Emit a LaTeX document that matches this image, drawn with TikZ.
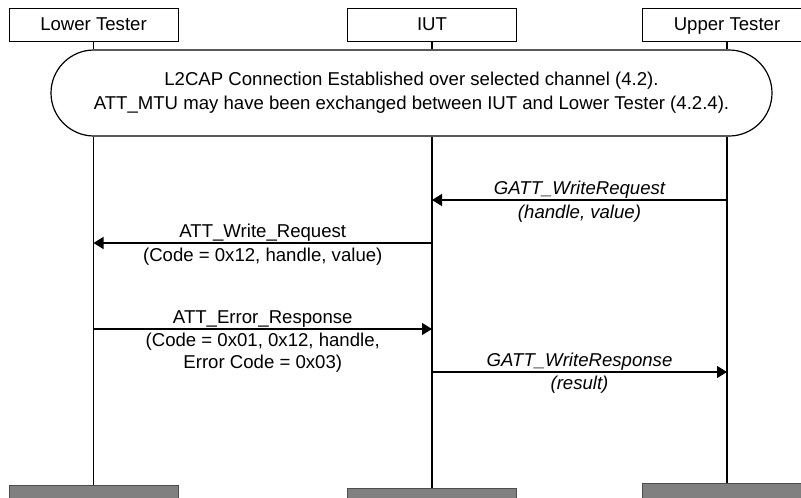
\documentclass[tikz,border=0pt]{standalone}
\usepackage{fontspec}
\setmainfont{Liberation Sans}
\usetikzlibrary{arrows.meta}
\begin{document}
\begin{tikzpicture}[x=1pt,y=-1pt,
  font=\fontsize{18.6}{22}\selectfont,
  actor/.style={draw, line width=1pt, minimum width=169pt, minimum height=33pt, inner sep=0pt, text height=15pt, text depth=2.6pt},
  endbox/.style={draw=black!70, line width=1pt, fill=black!50, minimum width=169pt, minimum height=40pt, anchor=north, inner sep=0pt},
  life/.style={line width=1.5pt},
  msg/.style={line width=1.3pt, -{Triangle[length=10pt,width=12pt]}},
  lbl/.style={anchor=base, inner sep=0pt},
  ilbl/.style={anchor=base, inner sep=0pt, font=\fontsize{18.6}{22}\selectfont\itshape}]
\useasboundingbox (0,0) rectangle (801,498);
\clip (0,0) rectangle (801,498);

% actors
\node[actor] (lt) at (93.5,24.5) {Lower Tester};
\node[actor] (iut) at (432,24.5) {IUT};
\node[actor] (ut) at (727,24.5) {Upper Tester};

% end boxes
\node[endbox] (ltend) at (93.5,485) {};
\node[endbox] (iutend) at (432,488) {};
\node[endbox] (utend) at (727,483) {};

% connection region
\node[draw, line width=1.2pt, rounded corners=43pt, minimum width=721pt, minimum height=86pt,
      align=center, inner sep=0pt, font=\fontsize{18.6}{24}\selectfont] (conn) at (411.5,93)
  {L2CAP Connection Established over selected channel (4.2).\\
   ATT\_MTU may have been exchanged between IUT and Lower Tester (4.2.4).};

% lifelines
\draw[life] (lt.south) -- (lt.south |- conn.north);
\draw[life] (iut.south) -- (iut.south |- conn.north);
\draw[life] (ut.south) -- (ut.south |- conn.north);
\draw[life] (lt.south |- conn.south) -- (ltend.north);
\draw[life] (iut.south |- conn.south) -- (iutend.north);
\draw[life] (ut.south |- conn.south) -- (utend.north);

% message points
\coordinate (ut1) at (727,200);
\coordinate (iut1) at (432,200);
\coordinate (iut2) at (432,243);
\coordinate (lt2) at (93.5,243);
\coordinate (lt3) at (93.5,329);
\coordinate (iut3) at (432,329);
\coordinate (iut4) at (432,372);
\coordinate (ut4) at (727,372);

% messages
\draw[msg] (ut1) -- (iut1)
  node[ilbl, midway, yshift=6pt] {GATT\_WriteRequest}
  node[ilbl, midway, yshift=-18pt] {(handle, value)};
\draw[msg] (iut2) -- (lt2)
  node[lbl, midway, yshift=6pt] {ATT\_Write\_Request}
  node[lbl, midway, yshift=-18pt] {(Code = 0x12, handle, value)};
\draw[msg] (lt3) -- (iut3)
  node[lbl, midway, yshift=6pt] {ATT\_Error\_Response}
  node[lbl, midway, yshift=-17pt] {(Code = 0x01, 0x12, handle,}
  node[lbl, midway, yshift=-39pt] {Error Code = 0x03)};
\draw[msg] (iut4) -- (ut4)
  node[ilbl, midway, yshift=6pt] {GATT\_WriteResponse}
  node[ilbl, midway, yshift=-17pt] {(result)};
\end{tikzpicture}
\end{document}
